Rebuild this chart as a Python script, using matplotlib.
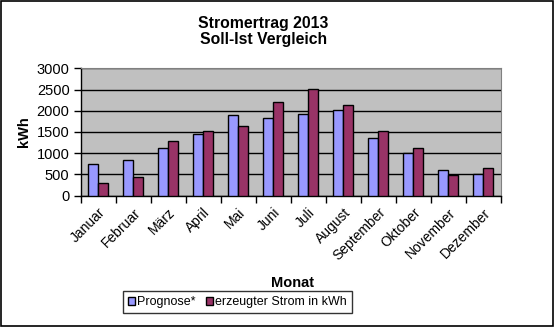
import matplotlib.pyplot as plt
import numpy as np
from matplotlib.patches import Rectangle

plt.rcParams['font.family'] = ['Liberation Sans', 'DejaVu Sans']

months = ["Januar", "Februar", "März", "April", "Mai", "Juni", "Juli",
          "August", "September", "Oktober", "November", "Dezember"]
prognose = [740, 830, 1120, 1450, 1890, 1820, 1920, 2010, 1350, 1000, 600, 500]
erzeugt = [290, 450, 1280, 1520, 1640, 2200, 2520, 2130, 1520, 1120, 480, 650]

fig = plt.figure(figsize=(5.58, 3.29), dpi=100)
ax = fig.add_axes([0.1446, 0.4052, 0.7527, 0.3872])

x = np.arange(len(months))
w = 0.29
ax.bar(x - w / 2, prognose, w, color="#9999FF", edgecolor="black", linewidth=1,
       label="Prognose*", zorder=3)
ax.bar(x + w / 2, erzeugt, w, color="#993366", edgecolor="black", linewidth=1,
       label="erzeugter Strom in kWh", zorder=3)

ax.set_facecolor("#C0C0C0")
ax.set_xlim(-0.5, len(months) - 0.5)
ax.set_ylim(0, 3000)
ax.set_yticks(range(0, 3001, 500))
ax.yaxis.grid(True, color="black", linewidth=1, zorder=1)
ax.set_axisbelow(True)

# ticks sit between the months, labels under each month
ax.set_xticks(np.arange(-0.5, len(months), 1))
ax.set_xticklabels([])
ax.set_xticks(x, minor=True)
ax.set_xticklabels(months, minor=True, rotation=45, ha="right",
                   rotation_mode="anchor", fontsize=10)
ax.tick_params(axis="x", which="minor", length=0, pad=7)
ax.tick_params(axis="x", which="major", length=5, width=1, color="black")
ax.tick_params(axis="y", length=5, width=1, labelsize=10.5, pad=3)

for s in ["top", "right"]:
    ax.spines[s].set_color("#808080")
for s in ["left", "bottom"]:
    ax.spines[s].set_color("black")
    ax.spines[s].set_linewidth(1)

ax.set_ylabel("kWh", fontsize=10.5, fontweight="bold", labelpad=4)
fig.text(0.524, 0.139, "Monat", fontsize=10.5, fontweight="bold",
         ha="center", va="center")
fig.text(0.472, 0.905, "Stromertrag 2013\nSoll-Ist Vergleich", fontsize=11.3,
         fontweight="bold", ha="center", va="center", linespacing=1.1)

leg = fig.legend(loc="center", bbox_to_anchor=(0.4256, 0.0815), ncol=2,
                 fontsize=9, frameon=True, fancybox=False, edgecolor="black",
                 handlelength=0.6, handleheight=0.6, handletextpad=0.15,
                 columnspacing=0.8, borderpad=0.4, borderaxespad=0)
leg.get_frame().set_linewidth(1)

fig.patches.append(Rectangle((1 / 558, 3 / 329), 552 / 558, 325 / 329,
                             transform=fig.transFigure, fill=False,
                             edgecolor="black", linewidth=1.2))

fig.savefig("out.png", dpi=100)
